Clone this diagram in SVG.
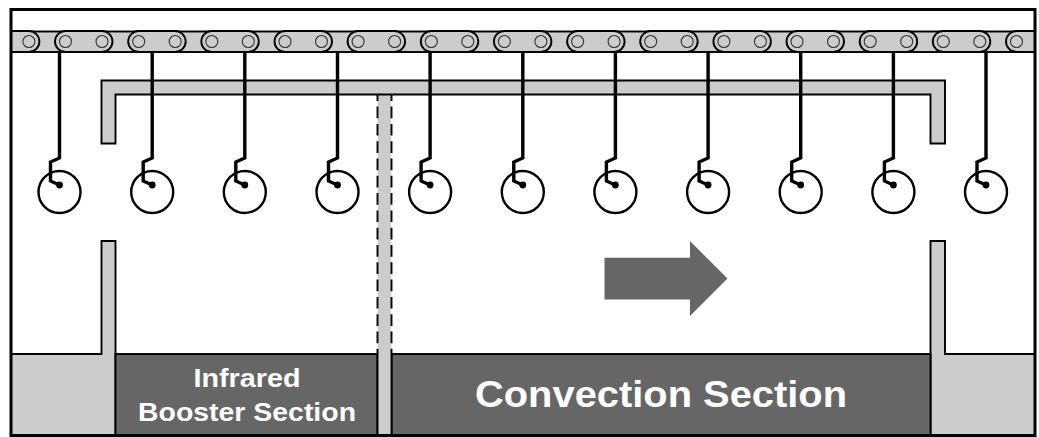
<svg xmlns="http://www.w3.org/2000/svg" width="1039" height="437" viewBox="0 0 1039 437">
<defs>
<style>
.g{fill:#ccc;stroke:#000;stroke-width:1.9}
.link{fill:#ccc;stroke:#000;stroke-width:1.9}
.pin{fill:none;stroke:#333;stroke-width:1.1}
.h{fill:none;stroke:#000;stroke-width:3.4}
.r{fill:none;stroke:#000;stroke-width:2.4}
.d{fill:#666;stroke:#000;stroke-width:1.9}
text{font-family:"Liberation Sans",Arial,sans-serif;font-weight:700;fill:#fff;text-anchor:middle}
</style>
<clipPath id="cc"><rect x="11" y="30" width="1024" height="23"/></clipPath>
<g id="lk"><rect class="link" x="-10.5" y="-10.5" width="57.5" height="21" rx="10.5"/><circle class="pin" cx="0" cy="0" r="6"/><circle class="pin" cx="36.5" cy="0" r="6"/></g>
<g id="hg"><path class="h" d="M0 52V158L-9 162V181L0 185"/><circle cx="0" cy="185" r="3.4"/><circle class="r" cx="0" cy="192" r="21"/></g>
</defs>
<rect width="1039" height="437" fill="#fff"/>
<g id="lower-left"><path class="g" d="M11 354H101.5V241H115.5V435.5H11Z"/></g>
<g id="lower-right"><path class="g" d="M1035 354H945V241H930.5V435.5H1035Z"/></g>
<g id="infrared-section"><rect class="d" x="115.5" y="354" width="262" height="81.5"/><text x="247" y="387" font-size="25" textLength="107" lengthAdjust="spacingAndGlyphs">Infrared</text><text x="247" y="421" font-size="25" textLength="218" lengthAdjust="spacingAndGlyphs">Booster Section</text></g>
<g id="convection-section"><rect class="d" x="391.5" y="354" width="539" height="81.5"/><text x="661" y="406.5" font-size="37" textLength="372" lengthAdjust="spacingAndGlyphs">Convection Section</text></g>
<g id="divider"><rect x="378" y="94" width="13" height="341" fill="#ccc"/><path d="M377.5 94V354M391.5 94V354" fill="none" stroke="#000" stroke-width="1.9" stroke-dasharray="11.7 5.6" stroke-dashoffset="4.7"/><path d="M377.5 354V435.5M391.5 354V435.5" fill="none" stroke="#000" stroke-width="1.9"/></g>
<g id="duct"><path class="g" d="M101.5 143.5V80.5H945V143.5H930.5V94.5H115.5V143.5Z"/></g>
<g id="chain"><rect x="11" y="31.5" width="1024" height="20.5" class="g"/>
<g clip-path="url(#cc)"><use href="#lk" x="-7.6" y="41.5"/><use href="#lk" x="65.5" y="41.5"/><use href="#lk" x="138.7" y="41.5"/><use href="#lk" x="211.8" y="41.5"/><use href="#lk" x="285" y="41.5"/><use href="#lk" x="358.1" y="41.5"/><use href="#lk" x="431.3" y="41.5"/><use href="#lk" x="504.4" y="41.5"/><use href="#lk" x="577.6" y="41.5"/><use href="#lk" x="650.7" y="41.5"/><use href="#lk" x="723.9" y="41.5"/><use href="#lk" x="797" y="41.5"/><use href="#lk" x="870.2" y="41.5"/><use href="#lk" x="943.3" y="41.5"/><use href="#lk" x="1016.5" y="41.5"/></g>
</g>
<g id="connectors"><use href="#hg" x="59.5"/><use href="#hg" x="152.2"/><use href="#hg" x="244.8"/><use href="#hg" x="337.5"/><use href="#hg" x="430.1"/><use href="#hg" x="522.8"/><use href="#hg" x="615.4"/><use href="#hg" x="708.1"/><use href="#hg" x="800.7"/><use href="#hg" x="893.4"/><use href="#hg" x="986"/></g>
<g id="direction-arrow"><path d="M604.5 257.7H690V241L727.5 278.5L690 316V299.5H604.5Z" fill="#666"/></g>
<rect id="frame" x="11" y="9.5" width="1024" height="426" fill="none" stroke="#000" stroke-width="3"/>
</svg>
